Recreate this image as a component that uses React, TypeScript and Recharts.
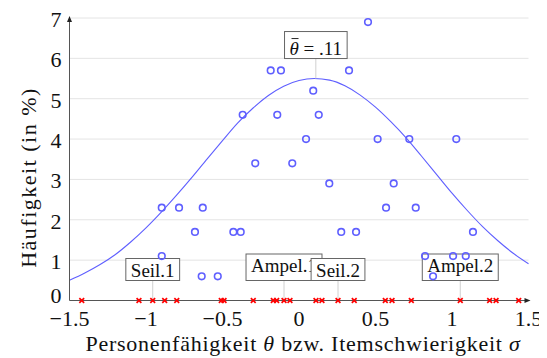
import { useLayoutEffect, useRef, useState } from 'react';
import { ComposedChart, XAxis, YAxis, CartesianGrid, Scatter, Line, ReferenceDot, Label } from 'recharts';

// Personen: Fähigkeit θ und Häufigkeit (in %)
const personTheta = [
  -0.185, -0.118, -0.368, -0.142, 0.046, -0.286, -0.044, 0.451, 0.327, 0.093, 0.129, 0.514,
  0.721, 1.028, -0.897, -0.784, -0.629, -0.68, -0.429, -0.381, -0.897, -0.636, -0.531, 0.198,
  0.619, 0.569, 0.763, 0.276, 0.373, 1.137, 0.824, 1.007, 1.09, 0.876,
];
const personFreq = [
  5.7, 5.7, 4.6, 4.6, 4.0, 3.4, 3.4, 6.9, 5.7, 5.2, 4.6, 4.0,
  4.0, 4.0, 2.3, 2.3, 2.3, 1.7, 1.7, 1.7, 1.1, 0.6, 0.6, 2.9,
  2.9, 2.3, 2.3, 1.7, 1.7, 1.7, 1.1, 1.1, 1.1, 0.6,
];

// Items: Schwierigkeit σ (Kreuze auf der x-Achse)
const itemSigma = [
  -1.42, -1.046, -0.956, -0.878, -0.799, -0.508, -0.49, -0.299, -0.168, -0.146, -0.098, -0.059,
  0.111, 0.15, 0.255, 0.361, 0.564, 0.608, 0.734, 1.054, 1.246, 1.288, 1.436,
];

// beschriftete Items
const labelNames = ['Seil.1', 'Ampel.1', 'Seil.2', 'Ampel.2'];
const labelSigma = [-0.956, -0.098, 0.255, 1.054];

// Normalverteilung der Fähigkeiten
const curveTheta = [
  -1.5, -1.4, -1.3, -1.2, -1.1, -1.0, -0.9, -0.8, -0.7, -0.6, -0.5, -0.4, -0.3, -0.2, -0.1, 0,
  0.1, 0.2, 0.3, 0.4, 0.5, 0.6, 0.7, 0.8, 0.9, 1.0, 1.1, 1.2, 1.3, 1.4, 1.5,
];
const curveFreq = [
  0.5, 0.68, 0.89, 1.14, 1.45, 1.8, 2.19, 2.61, 3.05, 3.51, 3.96, 4.4, 4.77, 5.08, 5.31, 5.45,
  5.5, 5.46, 5.32, 5.09, 4.79, 4.43, 4.03, 3.58, 3.12, 2.66, 2.23, 1.83, 1.48, 1.17, 0.91,
];

const thetaMean = 0.11;
const thetaPeak = 5.5;
const thetaText = '= .11';

const xTicks = [-1.5, -1, -0.5, 0, 0.5, 1, 1.5];
const yTicks = [0, 1, 2, 3, 4, 5, 6, 7];

const FONT = 'Liberation Serif, DejaVu Serif, serif';
const BLUE = '#5f5fff';
const AXIS = '#555';

const persons = personTheta.map((x, i) => ({ x, y: personFreq[i] }));
const items = itemSigma.map(x => ({ x, y: 0 }));
const curve = curveTheta.map((x, i) => ({ x, y: curveFreq[i] }));

const fmtTick = (v: number) => (v < 0 ? '\u2212' : '') + Math.abs(v);

// y-Ticks, die 0 ein wenig angehoben (sonst stößt sie an die −1.5)
const YTick = (props: any) => {
  const { x, y, payload } = props;
  const dy = payload.value === 0 ? -5 : 1;
  return (
    <text x={x} y={y + dy} dy="0.355em" textAnchor="end" fontFamily={FONT} fontSize={22} fill="#111">
      {payload.value}
    </text>
  );
};

// Kasten mit Beschriftung, über eine Linie mit dem Punkt verbunden
const PinLabel = ({ cx, cy, text, mean }: { cx: number; cy: number; text: string; mean?: boolean }) => {
  const ref = useRef<SVGTextElement>(null);
  const [w, setW] = useState(text.length * 9);
  useLayoutEffect(() => {
    if (ref.current) setW(ref.current.getComputedTextLength());
  }, [text]);
  const padX = 5;
  const padY = 4;
  const depth = /[gjpqy]/.test(text) ? 4.5 : 0;
  const asc = mean ? 19 : 14;
  const h = asc + depth + 2 * padY;
  const bottom = cy - 20;
  const baseline = bottom - padY - depth;
  const left = cx - w / 2;
  return (
    <g>
      <line x1={cx} y1={cy} x2={cx} y2={bottom} stroke="#d0d0d0" strokeWidth={1} />
      <rect x={left - padX} y={bottom - h} width={w + 2 * padX} height={h} fill="#fff" stroke="#666" strokeWidth={1} />
      <text ref={ref} x={cx} y={baseline} textAnchor="middle" fontFamily={FONT} fontSize={19} fill="#111" xmlSpace="preserve">
        {mean ? (
          <>
            <tspan fontStyle="italic">θ</tspan>
            {' ' + text}
          </>
        ) : (
          text
        )}
      </text>
      {mean && <line x1={left + 2} x2={left + 9} y1={baseline - 16} y2={baseline - 16} stroke="#111" strokeWidth={0.9} />}
    </g>
  );
};

const XTitle = (props: any) => {
  const { x, y, width } = props.viewBox;
  return (
    <text x={x + width / 2 + 4} y={y + 50.5} textAnchor="middle" fontFamily={FONT} fontSize={22} letterSpacing={0.75} fill="#111">
      Personenfähigkeit <tspan fontStyle="italic">θ</tspan> bzw. Itemschwierigkeit <tspan fontStyle="italic">σ</tspan>
    </text>
  );
};

const YTitle = (props: any) => {
  const { x, y } = props.viewBox;
  const tx = x + 28;
  const ty = y + 159.5;
  return (
    <text x={tx} y={ty} transform={`rotate(-90, ${tx}, ${ty})`} textAnchor="middle" fontFamily={FONT} fontSize={22} letterSpacing={1.5} fill="#111">
      Häufigkeit (in %)
    </text>
  );
};

const circleShape = (p: any) => <circle cx={p.cx} cy={p.cy} r={3.3} fill="none" stroke={BLUE} strokeWidth={1.6} />;

const crossShape = (p: any) => {
  const s = 2.4;
  return (
    <path
      d={`M${p.cx - s},${p.cy - s}L${p.cx + s},${p.cy + s}M${p.cx - s},${p.cy + s}L${p.cx + s},${p.cy - s}`}
      stroke="#ff0000"
      strokeWidth={1.7}
    />
  );
};

const arrowRight = (p: any) => <path d={`M${p.cx + 2},${p.cy}L${p.cx - 4},${p.cy - 2.5}L${p.cx - 4},${p.cy + 2.5}Z`} fill="#222" />;
const arrowUp = (p: any) => <path d={`M${p.cx},${p.cy - 2}L${p.cx - 2.5},${p.cy + 4}L${p.cx + 2.5},${p.cy + 4}Z`} fill="#222" />;

export default function App() {
  return (
    <div style={{ width: 539, height: 350 }}>
      <ComposedChart width={539} height={350} margin={{ top: 10, right: 18.5, bottom: 0, left: 0 }}>
        <CartesianGrid vertical={false} stroke="#e4e4e4" />
        <XAxis
          dataKey="x"
          type="number"
          domain={[-1.5, 1.5]}
          ticks={xTicks}
          tickFormatter={fmtTick}
          height={57.5}
          tickSize={0}
          tickMargin={10}
          stroke={AXIS}
          tick={{ fontSize: 22, fill: '#111', fontFamily: FONT }}
        >
          <Label content={XTitle} />
        </XAxis>
        <YAxis type="number" domain={[0, 7]} ticks={yTicks} width={61.5} tickSize={0} tickMargin={8} stroke={AXIS} tick={<YTick />}>
          <Label content={YTitle} />
        </YAxis>
        <Line data={curve} dataKey="y" type="monotone" stroke={BLUE} strokeWidth={1.1} dot={false} isAnimationActive={false} />
        <ReferenceDot x={thetaMean} y={thetaPeak} shape={(p: any) => <PinLabel cx={p.cx} cy={p.cy} text={thetaText} mean />} />
        {labelNames.map((name, i) => (
          <ReferenceDot key={name} x={labelSigma[i]} y={0} shape={(p: any) => <PinLabel cx={p.cx} cy={p.cy} text={name} />} />
        ))}
        <ReferenceDot x={1.5} y={0} shape={arrowRight} />
        <ReferenceDot x={-1.5} y={7} shape={arrowUp} />
        <Scatter data={persons} dataKey="y" shape={circleShape} isAnimationActive={false} />
        <Scatter data={items} dataKey="y" shape={crossShape} isAnimationActive={false} />
      </ComposedChart>
    </div>
  );
}
